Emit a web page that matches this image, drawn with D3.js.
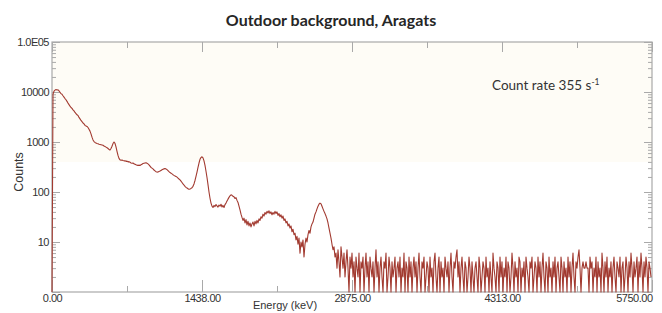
<!DOCTYPE html>
<html>
<head>
<meta charset="utf-8">
<script src="https://cdn.jsdelivr.net/npm/d3@7/dist/d3.min.js"></script>
<style>
  html, body { margin: 0; padding: 0; background: #ffffff; }
  svg { display: block; }
</style>
</head>
<body>
<svg id="chart" width="662" height="313"></svg>
<script>
// ---- data ----
const title = "Outdoor background, Aragats";
const xLabel = "Energy (keV)";
const yLabel = "Counts";
const annotation = "Count rate 355 s";
const annotationSup = "-1";
const energyMax = 5750;
const channelCount = 600;
const xTickValues = [0, 1437.5, 2875, 4312.5, 5750];
const xTickLabels = ["0.00", "1438.00", "2875.00", "4313.00", "5750.00"];
const xMinorTicks = [718.75, 2156.25, 3593.75, 5031.25];
const yTickValues = [1, 10, 100, 1000, 10000, 100000];
const yTickLabels = ["", "10", "100", "1000", "10000", "1.0E05"];

// counts per channel: smooth part (channels 0-283)
const countsLow = [
  1, 9000, 10400, 10900, 11200, 11000, 11100, 10500, 9900, 9300,
  9000, 8400, 7900, 7400, 7000, 6500, 6000, 5600, 5200, 4900,
  4700, 4400, 4200, 3900, 3700, 3500, 3400, 3100, 2900, 2700,
  2550, 2400, 2300, 2150, 2100, 2050, 1950, 1800, 1650, 1450,
  1250, 1100, 1020, 980, 950, 930, 920, 900, 890, 880,
  870, 860, 830, 810, 790, 770, 740, 710, 690, 740,
  820, 930, 1000, 940, 800, 650, 540, 470, 440, 430,
  435, 425, 420, 420, 410, 415, 400, 405, 395, 380,
  375, 380, 365, 360, 350, 345, 340, 345, 340, 350,
  360, 370, 375, 380, 385, 375, 365, 350, 330, 310,
  300, 290, 275, 265, 255, 250, 252, 258, 262, 270,
  278, 285, 290, 295, 288, 280, 268, 255, 245, 238,
  230, 222, 215, 210, 205, 198, 190, 182, 175, 165,
  155, 145, 138, 130, 124, 120, 116, 113, 115, 118,
  122, 130, 145, 170, 205, 250, 310, 380, 450, 490,
  505, 480, 420, 340, 260, 195, 140, 100, 75, 60,
  52, 49, 54, 51, 56, 53, 50, 55, 52, 57,
  50, 54, 49, 56, 60, 66, 72, 78, 84, 88,
  86, 82, 80, 74, 77, 68, 62, 52, 44, 36,
  31, 27, 30, 24, 28, 22, 26, 21, 24, 20,
  23, 25, 21, 26, 23, 27, 24, 29, 27, 32,
  30, 36, 33, 39, 36, 41, 38, 42, 37, 40,
  35, 39, 36, 41, 37, 40, 34, 37, 32, 35,
  30, 33, 27, 29, 24, 26, 21, 23, 19, 21,
  16, 18, 14, 15, 11, 13, 9, 12, 6, 10,
  8, 11, 5, 9, 12, 10, 14, 17, 15, 20,
  23, 25, 30, 36, 40, 46, 52, 57, 60, 58,
  52, 46, 41, 37, 33, 29, 24, 19, 15, 12,
  9, 7, 8, 5
];
// counts per channel: noisy tail (channels 284-599)
const countsHigh = [
  6,3,7,4,2,8,5,3,6,2,4,7,3,1,5,3,6,2,4,1,
  5,3,2,6,1,4,3,5,1,3,6,2,4,1,5,3,2,4,1,3,
  7,2,4,1,3,5,2,1,4,3,6,1,2,5,3,1,4,2,3,5,
  1,3,4,2,5,1,3,2,6,1,4,3,1,5,2,4,1,3,5,2,
  4,1,3,6,2,1,4,3,5,1,2,4,3,1,5,2,3,1,4,6,
  2,1,3,5,1,4,2,3,1,5,3,2,4,1,3,6,2,1,4,3,
  5,7,2,4,1,3,5,2,1,4,3,1,2,5,3,1,4,2,1,3,
  4,2,1,5,3,1,2,4,3,1,5,2,3,1,4,2,1,6,3,2,
  1,4,3,1,5,2,4,1,3,2,5,1,4,3,1,2,6,3,1,4,
  2,3,1,5,4,1,3,2,4,1,5,3,2,1,4,3,5,1,2,4,
  3,1,5,2,4,1,3,6,2,1,4,3,1,5,2,3,1,4,2,5,
  1,3,4,2,1,5,3,1,4,2,3,1,5,2,4,1,3,6,2,1,
  4,3,5,7,3,1,3,4,3,3,4,3,3,1,5,3,4,1,3,2,
  5,1,4,2,3,1,6,3,1,4,2,5,1,3,2,4,1,3,5,2,
  1,4,3,2,5,1,3,4,1,2,5,3,1,4,2,6,3,1,4,2,
  3,5,1,4,2,6,3,1,4,2,5,3,1,4,3,2
];
const counts = countsLow.concat(countsHigh);
const channelWidth = energyMax / channelCount;
const spectrum = counts.map((c, i) => ({ energy: i * channelWidth, count: Math.max(1, c) }));

// ---- layout ----
const svg = d3.select("#chart");
const M = { left: 52, right: 652, top: 42, bottom: 292 };
const x = d3.scaleLinear().domain([0, energyMax]).range([M.left, M.right]);
const y = d3.scaleLog().domain([1, 100000]).range([M.bottom, M.top]);

const axisColor = "#a9a9a9";
const textColor = "#333333";

// faint cream panel in upper plot area
svg.append("rect")
  .attr("x", M.left).attr("y", M.top)
  .attr("width", M.right - M.left).attr("height", y(400) - M.top)
  .attr("fill", "#fefcf6");

// frame
svg.append("rect")
  .attr("x", M.left).attr("y", M.top)
  .attr("width", M.right - M.left).attr("height", M.bottom - M.top)
  .attr("fill", "none").attr("stroke", axisColor).attr("stroke-width", 1.2);

// minor y ticks
const yMinor = [];
for (let d = 1; d < 100000; d *= 10) {
  for (let k = 2; k <= 9; k++) yMinor.push(d * k);
}

function styleAxis(g) {
  g.select(".domain").remove();
  g.selectAll(".tick line").attr("stroke", axisColor).attr("stroke-width", 1);
  g.selectAll(".tick text")
    .attr("fill", textColor)
    .style("font-family", "'Liberation Sans', Arial, sans-serif")
    .style("font-size", "11px")
    .style("letter-spacing", "-0.5px");
}

// bottom axis (major + minor)
const xAxisB = svg.append("g").attr("transform", `translate(0,${M.bottom})`)
  .call(d3.axisBottom(x).tickValues(xTickValues)
    .tickFormat((d, i) => xTickLabels[i]).tickSizeInner(-12).tickSizeOuter(0).tickPadding(3));
styleAxis(xAxisB);
xAxisB.selectAll(".tick text").attr("y", 2);
xAxisB.selectAll(".tick").filter((d, i) => i === xTickValues.length - 1)
  .select("text").attr("text-anchor", "end").attr("dx", "0px");
svg.append("g").attr("transform", `translate(0,${M.bottom})`)
  .call(d3.axisBottom(x).tickValues(xMinorTicks).tickFormat("").tickSizeInner(-6).tickSizeOuter(0))
  .call(styleAxis);

// top axis
svg.append("g").attr("transform", `translate(0,${M.top})`)
  .call(d3.axisTop(x).tickValues(xTickValues).tickFormat("").tickSizeInner(-10).tickSizeOuter(0))
  .call(styleAxis);
svg.append("g").attr("transform", `translate(0,${M.top})`)
  .call(d3.axisTop(x).tickValues(xMinorTicks).tickFormat("").tickSizeInner(-6).tickSizeOuter(0))
  .call(styleAxis);

// left axis
svg.append("g").attr("transform", `translate(${M.left},0)`)
  .call(d3.axisLeft(y).tickValues(yTickValues)
    .tickFormat((d, i) => yTickLabels[i]).tickSizeInner(-8).tickSizeOuter(0).tickPadding(4))
  .call(styleAxis)
  .selectAll(".tick text").attr("x", -3);
svg.append("g").attr("transform", `translate(${M.left},0)`)
  .call(d3.axisLeft(y).tickValues(yMinor).tickFormat("").tickSizeInner(-4).tickSizeOuter(0))
  .call(styleAxis);

// right axis
svg.append("g").attr("transform", `translate(${M.right},0)`)
  .call(d3.axisRight(y).tickValues(yTickValues).tickFormat("").tickSizeInner(-8).tickSizeOuter(0))
  .call(styleAxis);
svg.append("g").attr("transform", `translate(${M.right},0)`)
  .call(d3.axisRight(y).tickValues(yMinor).tickFormat("").tickSizeInner(-4).tickSizeOuter(0))
  .call(styleAxis);

// spectrum line
const line = d3.line()
  .x(d => x(d.energy))
  .y(d => y(d.count));
svg.append("path")
  .datum(spectrum)
  .attr("fill", "none")
  .attr("stroke", "#a23a30")
  .attr("stroke-width", 1.1)
  .attr("stroke-linejoin", "round")
  .attr("d", line);

// title
svg.append("text")
  .attr("x", 331).attr("y", 26)
  .attr("text-anchor", "middle")
  .attr("fill", "#262626")
  .style("font-family", "Lato, 'Open Sans', sans-serif")
  .style("font-weight", "bold")
  .style("font-size", "16px")
  .text(title);

// axis titles
svg.append("text")
  .attr("x", 285).attr("y", 309)
  .attr("text-anchor", "middle")
  .attr("fill", textColor)
  .style("font-family", "'Liberation Sans', Arial, sans-serif")
  .style("font-size", "11px")
  .text(xLabel);

svg.append("text")
  .attr("transform", "translate(23,172) rotate(-90)")
  .attr("text-anchor", "middle")
  .attr("fill", textColor)
  .style("font-family", "'Liberation Sans', Arial, sans-serif")
  .style("font-size", "12.5px")
  .text(yLabel);

// annotation
const ann = svg.append("text")
  .attr("x", 492).attr("y", 90)
  .attr("fill", "#333333")
  .style("font-family", "Lato, 'Open Sans', sans-serif")
  .style("font-size", "13.5px");
ann.append("tspan").text(annotation);
ann.append("tspan").attr("dy", -5).style("font-size", "8.5px").text(annotationSup);
</script>
</body>
</html>
